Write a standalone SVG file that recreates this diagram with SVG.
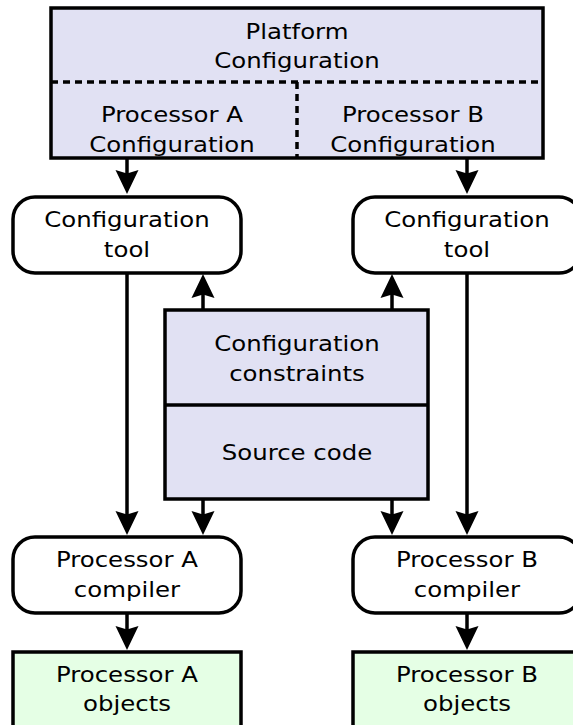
<svg xmlns="http://www.w3.org/2000/svg" width="573" height="725" viewBox="0 0 573 725">
<style>
.box{stroke:#000;stroke-width:3.5}
.lav{fill:#e1e1f3}
.grn{fill:#e5ffe5}
.wht{fill:#fff}
.dash{stroke:#000;stroke-width:3.5;stroke-dasharray:7,5;fill:none}
.t{font-family:"DejaVu Sans",sans-serif;font-size:22px;fill:#000;text-anchor:middle}
.c{stroke:#000;stroke-width:3.5;fill:none;marker-end:url(#ah)}
</style>
<defs>
<marker id="ah" markerUnits="userSpaceOnUse" viewBox="-16 -13 28 26" markerWidth="28" markerHeight="26" refX="0" refY="0" orient="auto">
<path d="M10,0 L-14,-11.5 L-10.5,0 L-14,11.5 z" fill="#000"/>
</marker>
</defs>
<g id="platform">
<rect class="box lav" x="51" y="8" width="492" height="150"/>
<line class="dash" x1="51" y1="82" x2="543" y2="82"/>
<line class="dash" x1="297" y1="82" x2="297" y2="158"/>
<g transform="matrix(1.11,0,0,1,-32.67,0)">
<text class="t" x="297" y="39">Platform</text>
<text class="t" x="297" y="68">Configuration</text>
</g>
<g transform="matrix(1.11,0,0,1,-18.92,0)">
<text class="t" x="172" y="122">Processor A</text>
<text class="t" x="172" y="152">Configuration</text>
</g>
<g transform="matrix(1.11,0,0,1,-45.43,0)">
<text class="t" x="413" y="122">Processor B</text>
<text class="t" x="413" y="152">Configuration</text>
</g>
</g>
<g id="tool-a">
<rect class="box wht" x="13" y="197" width="228" height="76" rx="22"/>
<g transform="matrix(1.11,0,0,1,-13.97,0)">
<text class="t" x="127" y="227">Configuration</text>
<text class="t" x="127" y="257">tool</text>
</g>
</g>
<g id="tool-b">
<rect class="box wht" x="353" y="197" width="228" height="76" rx="22"/>
<g transform="matrix(1.11,0,0,1,-51.37,0)">
<text class="t" x="467" y="227">Configuration</text>
<text class="t" x="467" y="257">tool</text>
</g>
</g>
<g id="center">
<rect class="box lav" x="165" y="310" width="263" height="189"/>
<line class="box" x1="165" y1="405" x2="428" y2="405"/>
<g transform="matrix(1.11,0,0,1,-32.67,0)">
<text class="t" x="297" y="351">Configuration</text>
<text class="t" x="297" y="381">constraints</text>
<text class="t" x="297" y="460">Source code</text>
</g>
</g>
<g id="compiler-a">
<rect class="box wht" x="13" y="537" width="228" height="76" rx="22"/>
<g transform="matrix(1.11,0,0,1,-13.97,0)">
<text class="t" x="127" y="567">Processor A</text>
<text class="t" x="127" y="597">compiler</text>
</g>
</g>
<g id="compiler-b">
<rect class="box wht" x="353" y="537" width="228" height="76" rx="22"/>
<g transform="matrix(1.11,0,0,1,-51.37,0)">
<text class="t" x="467" y="567">Processor B</text>
<text class="t" x="467" y="597">compiler</text>
</g>
</g>
<g id="objects-a">
<rect class="box grn" x="13" y="652" width="228" height="90"/>
<g transform="matrix(1.11,0,0,1,-13.97,0)">
<text class="t" x="127" y="682">Processor A</text>
<text class="t" x="127" y="711">objects</text>
</g>
</g>
<g id="objects-b">
<rect class="box grn" x="353" y="652" width="228" height="90"/>
<g transform="matrix(1.11,0,0,1,-51.37,0)">
<text class="t" x="467" y="682">Processor B</text>
<text class="t" x="467" y="711">objects</text>
</g>
</g>
<g id="connectors">
<line class="c" x1="127" y1="158" x2="127" y2="184"/>
<line class="c" x1="467" y1="158" x2="467" y2="184"/>
<line class="c" x1="203" y1="310" x2="203" y2="284"/>
<line class="c" x1="392" y1="310" x2="392" y2="284"/>
<line class="c" x1="127" y1="273" x2="127" y2="525"/>
<line class="c" x1="467" y1="273" x2="467" y2="525"/>
<line class="c" x1="203" y1="499" x2="203" y2="525"/>
<line class="c" x1="392" y1="499" x2="392" y2="525"/>
<line class="c" x1="127" y1="613" x2="127" y2="640"/>
<line class="c" x1="467" y1="613" x2="467" y2="640"/>
</g>
</svg>
